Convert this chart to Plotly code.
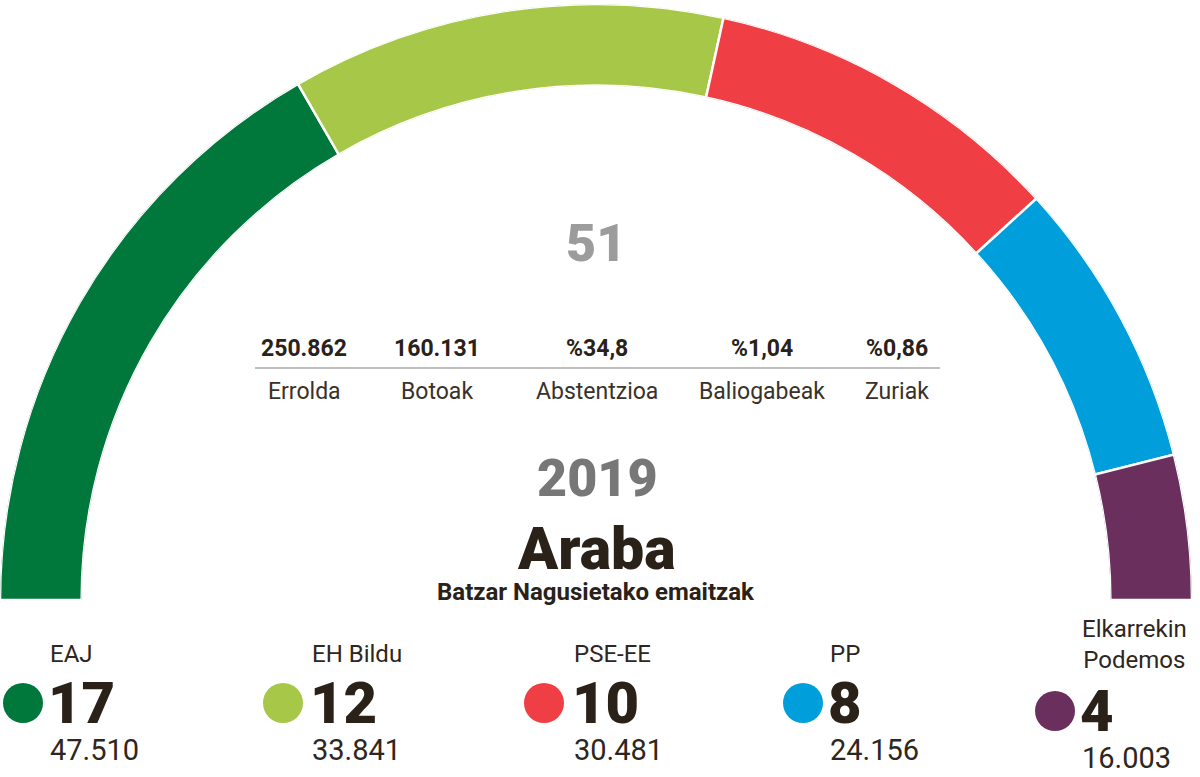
import plotly.graph_objects as go

# ---- data ----
parties = ["EAJ", "EH Bildu", "PSE-EE", "PP", "Elkarrekin<br>Podemos"]
seats = [17, 12, 10, 8, 4]
votes = ["47.510", "33.841", "30.481", "24.156", "16.003"]
colors = ["#00773b", "#a6c747", "#f03e45", "#009fdc", "#6b2f5d"]
total_seats = 51
stat_values = ["250.862", "160.131", "%34,8", "%1,04", "%0,86"]
stat_labels = ["Errolda", "Botoak", "Abstentzioa", "Baliogabeak", "Zuriak"]
year = "2019"
region = "Araba"
subtitle = "Batzar Nagusietako emaitzak"

# ---- layout constants ----
W, H = 1200, 777
DARK = "#2a2119"
FONT = "Roboto"

def px(x):
    return x / W

def py(y):
    return 1 - y / H

deg_per_seat = 180.0 / total_seats
cum = 0
thetas, widths = [], []
for s in seats:
    thetas.append((cum + s / 2) * deg_per_seat)
    widths.append(s * deg_per_seat)
    cum += s

fig = go.Figure()
fig.add_trace(go.Barpolar(
    r=[1] * len(seats),
    theta=thetas,
    width=widths,
    marker=dict(color=colors, line=dict(color="white", width=2.5)),
    hoverinfo="skip",
    showlegend=False,
))

annotations = []

def txt(x, y, s, size, color=DARK, weight="normal", xanchor="center", yanchor="middle"):
    annotations.append(dict(
        x=px(x), y=py(y), xref="paper", yref="paper", text=s, showarrow=False,
        xanchor=xanchor, yanchor=yanchor,
        font=dict(family=FONT, size=size, color=color, weight=weight),
    ))

txt(596, 243, str(total_seats), 52, color="#9c9c9c", weight=900)

stat_x = [304, 437, 597, 762, 897]
for x, v, l in zip(stat_x, stat_values, stat_labels):
    txt(x, 348, v, 23, weight="bold")
    txt(x, 392, l, 23, color="#3a3129")

txt(597, 478, year, 52, color="#777777", weight=900)
txt(596, 548, region, 59, weight=900)
txt(596, 592, subtitle, 24, weight="bold")

dot_x = [23, 283, 544, 803, 1055]
text_x = [48, 310, 572, 828, 1080]
shapes = [dict(type="line", xref="paper", yref="paper",
               x0=px(255), x1=px(940), y0=py(368), y1=py(368),
               line=dict(color="#aaaaaa", width=1.5))]
for i, (p, s, v, c) in enumerate(zip(parties, seats, votes, colors)):
    dy = 8 if i == 4 else 0
    r = 20
    cy = 703 + dy
    shapes.append(dict(type="circle", xref="paper", yref="paper",
                       x0=px(dot_x[i] - r), x1=px(dot_x[i] + r),
                       y0=py(cy - r), y1=py(cy + r),
                       fillcolor=c, line=dict(width=0)))
    if i == 4:
        txt(text_x[i], 644, p, 24, color="#2e2620", xanchor="left")
    else:
        txt(text_x[i], 654, p, 24, color="#2e2620", xanchor="left")
    txt(text_x[i] - 2, 703 + dy, str(s), 58, weight=900, xanchor="left")
    txt(text_x[i], 750 + dy, v, 29, color="#2e2620", xanchor="left")

fig.update_layout(
    width=W, height=H,
    margin=dict(l=0, r=0, t=0, b=0),
    paper_bgcolor="white",
    plot_bgcolor="white",
    polar=dict(
        domain=dict(x=[0, 1192 / W], y=[py(600), py(4)]),
        sector=[0, 180],
        hole=0.863,
        bgcolor="white",
        radialaxis=dict(visible=False, range=[0, 1]),
        angularaxis=dict(visible=False, direction="clockwise", rotation=180,
                         showgrid=False),
        bargap=0,
    ),
    annotations=annotations,
    shapes=shapes,
)

fig.write_html("out.html",
               config={"displayModeBar": False},
               post_script="document.body.style.margin='0';document.body.style.overflow='hidden';")
